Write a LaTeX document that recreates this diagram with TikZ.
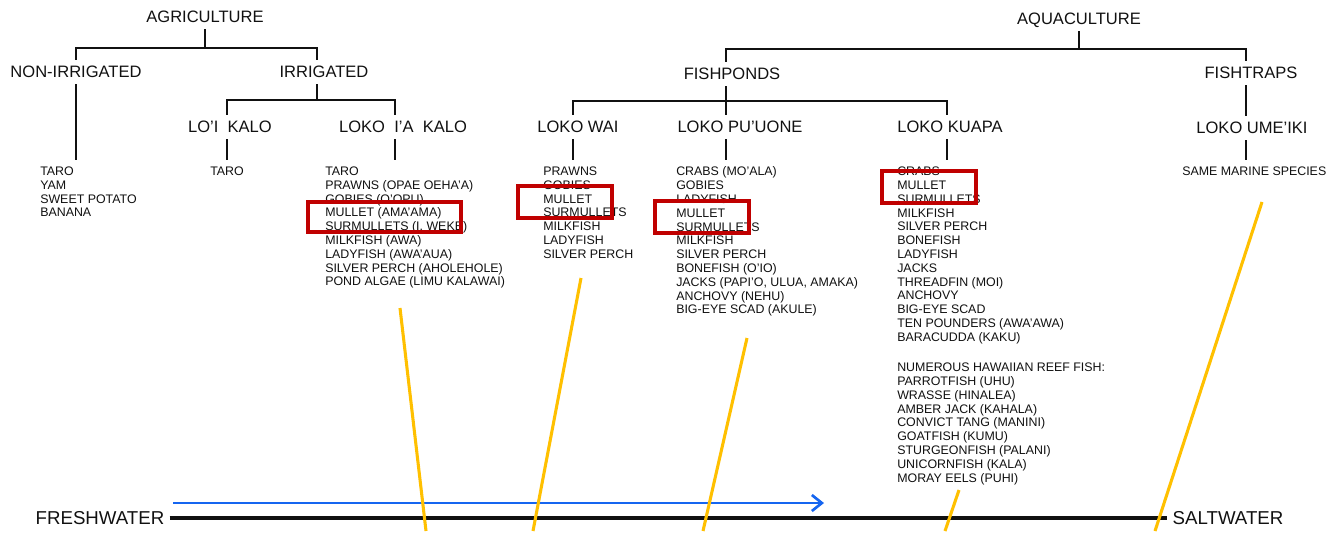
\documentclass[tikz,border=0pt]{standalone}
\usepackage{fontspec}
\setmainfont{Liberation Sans}
\usetikzlibrary{arrows.meta}
\definecolor{ink}{HTML}{111111}
\definecolor{flow}{HTML}{1565F0}
\definecolor{salin}{HTML}{FFC000}
\definecolor{mark}{HTML}{C00000}
\tikzset{
  head/.style={font=\fontsize{12.4}{14}\selectfont,text=ink,inner xsep=0pt,inner ysep=4.5pt,
    text height=8.9pt,text depth=0pt},
  spp/.style={font=\fontsize{9.3}{10.35}\selectfont,text=ink,align=left,anchor=north west,
    inner xsep=0pt,inner ysep=5pt},
  water/.style={font=\fontsize{14}{16}\selectfont,text=ink,inner xsep=3.75pt,inner ysep=0pt},
  tree/.style={draw=ink,line width=1.3pt},
  baseline/.style={draw=ink,line width=2.4pt},
  flowarrow/.style={draw=flow,line width=2pt,-{Straight Barb[length=7.5pt,width=12pt,line width=2pt]}},
  salinity/.style={draw=salin,line width=2.3pt},
  hilite/.style={draw=mark,line width=2.8pt}
}
\begin{document}
\begin{tikzpicture}[x=0.75pt,y=-0.75pt]
  \fill[white] (0,0) rectangle (1330,531);
  % agriculture branch
  \node[head] (agri) at (205,17) {AGRICULTURE};
  \node[head] (nonirr) at (76,72) {NON-IRRIGATED};
  \node[head] (irr) at (324,72) {IRRIGATED};
  \node[head] (loi) at (230,127) {LO'I~~KALO};
  \node[head] (kalo) at (403,127) {LOKO~~I'A~~KALO};
  \coordinate (agriBar) at (205,48);
  \coordinate (irrBar) at (317,100);
  % aquaculture branch
  \node[head] (aqua) at (1079,19) {AQUACULTURE};
  \node[head] (ponds) at (732,74) {FISHPONDS};
  \node[head] (traps) at (1251,73) {FISHTRAPS};
  \node[head] (wai) at (578,127) {LOKO WAI};
  \node[head] (puuone) at (740,127) {LOKO PU'UONE};
  \node[head] (kuapa) at (950,127) {LOKO KUAPA};
  \node[head] (umeiki) at (1252,128) {LOKO UME'IKI};
  \coordinate (aquaBar) at (1079,49);
  \coordinate (pondBar) at (726,101);

  % species lists
  \node[spp] (nonList) at (40,160) {TARO\\YAM\\SWEET POTATO\\BANANA};
  \node[spp] (loiList) at (210,160) {TARO};
  \node[spp] (kaloList) at (325,160) {TARO\\PRAWNS (OPAE OEHA'A)\\GOBIES (O'OPU)\\MULLET (AMA'AMA)\\
    SURMULLETS (I. WEKE)\\MILKFISH (AWA)\\LADYFISH (AWA'AUA)\\SILVER PERCH (AHOLEHOLE)\\
    POND ALGAE (LIMU KALAWAI)};
  \node[spp] (waiList) at (543,160) {PRAWNS\\GOBIES\\MULLET\\SURMULLETS\\MILKFISH\\LADYFISH\\SILVER PERCH};
  \node[spp] (puuoneList) at (676,160) {CRABS (MO'ALA)\\GOBIES\\LADYFISH\\MULLET\\SURMULLETS\\MILKFISH\\
    SILVER PERCH\\BONEFISH (O'IO)\\JACKS (PAPI'O, ULUA, AMAKA)\\ANCHOVY (NEHU)\\BIG-EYE SCAD (AKULE)};
  \node[spp] (kuapaList) at (897,160) {CRABS\\MULLET\\SURMULLETS\\MILKFISH\\SILVER PERCH\\BONEFISH\\
    LADYFISH\\JACKS\\THREADFIN (MOI)\\ANCHOVY\\BIG-EYE SCAD\\TEN POUNDERS (AWA'AWA)\\BARACUDDA (KAKU)\\[12.5pt]
    NUMEROUS HAWAIIAN REEF FISH:\\PARROTFISH (UHU)\\WRASSE (HINALEA)\\AMBER JACK (KAHALA)\\
    CONVICT TANG (MANINI)\\GOATFISH (KUMU)\\STURGEONFISH (PALANI)\\UNICORNFISH (KALA)\\MORAY EELS (PUHI)};
  \node[spp] (umeikiList) at (1182,160) {SAME MARINE SPECIES};

  % tree lines
  \draw[tree] (agri.south) -- (agriBar);
  \draw[tree] (nonirr.north) |- (agriBar) -| (317,0 |- irr.north);
  \draw[tree] (317,0 |- irr.south) -- (irrBar);
  \draw[tree] (227,0 |- loi.north) |- (irrBar) -| (395,0 |- kalo.north);
  \draw[tree] (nonirr.south) -- (nonirr.south |- nonList.north);
  \draw[tree] (227,0 |- loi.south) -- (227,0 |- loiList.north);
  \draw[tree] (395,0 |- kalo.south) -- (395,0 |- kaloList.north);
  \draw[tree] (aqua.south) -- (aquaBar);
  \draw[tree] (726,0 |- ponds.north) |- (aquaBar) -| (1246,0 |- traps.north);
  \draw[tree] (726,0 |- ponds.south) -- (726,0 |- puuone.north);
  \draw[tree] (573,0 |- wai.north) |- (pondBar) -| (947,0 |- kuapa.north);
  \draw[tree] (1246,0 |- traps.south) -- (1246,0 |- umeiki.north);
  \draw[tree] (573,0 |- wai.south) -- (573,0 |- waiList.north);
  \draw[tree] (726,0 |- puuone.south) -- (726,0 |- puuoneList.north);
  \draw[tree] (947,0 |- kuapa.south) -- (947,0 |- kuapaList.north);
  \draw[tree] (1246,0 |- umeiki.south) -- (1246,0 |- umeikiList.north);

  % mullet highlights
  \foreach \xa/\ya/\xb/\yb in {308/202/461/232, 518/186/612/218, 655/201/749/233, 882/171/976/203}
    \draw[hilite] (\xa,\ya) rectangle (\xb,\yb);

  % salinity axis
  \node[water] (fresh) at (100,518) {FRESHWATER};
  \node[water] (salt) at (1228,518) {SALTWATER};
  \draw[baseline] (fresh.east) -- (salt.west);
  \coordinate (flowStart) at (173,503);
  \coordinate (flowEnd) at (824,503);
  \draw[flowarrow] (flowStart) -- (flowEnd);
  \foreach \n/\xa/\ya/\xb/\yb in {1/400/308/426/531, 2/581/278/533/531, 3/747/338/703/531,
      4/959/490/945/531, 5/1262/202/1155/531} {
    \coordinate (top\n) at (\xa,\ya);
    \coordinate (bot\n) at (\xb,\yb);
    \draw[salinity] (top\n) -- (bot\n);
  }
\end{tikzpicture}
\end{document}
